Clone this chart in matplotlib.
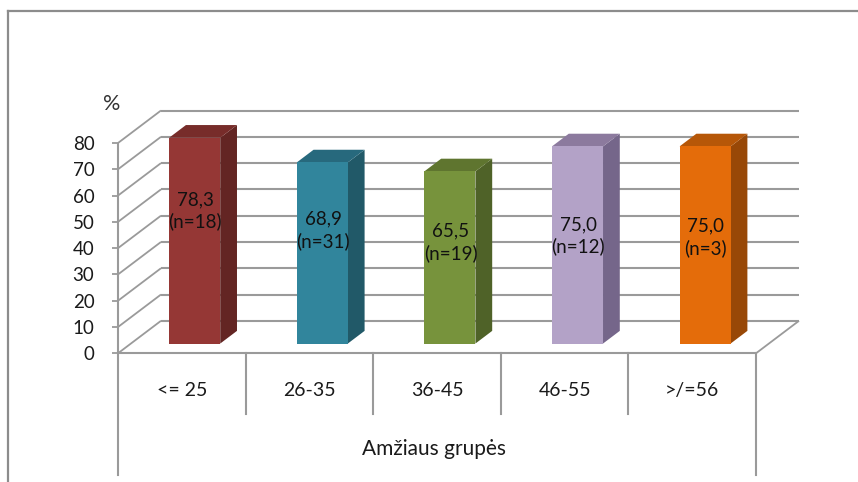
import matplotlib
matplotlib.use("Agg")
import matplotlib.pyplot as plt
from matplotlib.lines import Line2D

categories = ["<= 25", "26-35", "36-45", "46-55", ">/=56"]
values = [78.3, 68.9, 65.5, 75.0, 75.0]
counts = [18, 31, 19, 12, 3]
value_ticks = [0, 10, 20, 30, 40, 50, 60, 70, 80]
x_title = "Amžiaus grupės"
y_title = "%"

front_colors = ["#953735", "#31859C", "#77933C", "#B3A2C7", "#E46C0A"]
side_colors = ["#632523", "#215968", "#4F6228", "#75668A", "#984807"]
top_colors = ["#772C2A", "#27697D", "#5F752F", "#8C7A9E", "#B65708"]

GRID = "#9a9a9a"
FRAME = "#8c8c8c"
TEXT = "#1a1a1a"

plt.rcParams["font.family"] = ["Lato", "DejaVu Sans"]

W, H = 858, 482
LEFT, RIGHT, BASE, TOP = 118, 756, 353.3, 143

fig = plt.figure(figsize=(W / 100, H / 100), dpi=100)
ax = fig.add_axes([LEFT / W, 1 - BASE / H, (RIGHT - LEFT) / W, (BASE - TOP) / H])
ax.set_xlim(0, len(categories))
ax.set_ylim(0, 80)
ax.patch.set_visible(False)
for spine in ax.spines.values():
    spine.set_visible(False)

# oblique projection: depth 0 is the front plane, depth 1 the back wall
DEPTH_X = 43 / ((RIGHT - LEFT) / len(categories))
DEPTH_Y = 32.5 / ((BASE - TOP) / 80)


def project(x, v, depth):
    return x + depth * DEPTH_X, v + depth * DEPTH_Y


def seg(p, q, **kw):
    kw.setdefault("color", GRID)
    kw.setdefault("lw", 1.5)
    kw.setdefault("solid_capstyle", "butt")
    ax.plot([p[0], q[0]], [p[1], q[1]], clip_on=False, **kw)


def face(points, color, z):
    xs, ys = zip(*points)
    ax.fill(xs, ys, color=color, lw=0, clip_on=False, zorder=z)


# back wall and side wall grid
n = len(categories)
for v in value_ticks:
    seg(project(0, v, 1), project(n, v, 1), zorder=1)
    seg(project(0, v, 0), project(0, v, 1), zorder=1, lw=1.3)

# floor edges
seg(project(n, 0, 0), project(n, 0, 1), zorder=1, lw=1.3)
seg((0, 0), (n, 0), zorder=1)
seg((0, 0), (0, 80), zorder=1)

# boxes sit in the middle of the floor depth
BAR_W = 0.4
D0, D1 = 0.30, 0.69
label_heights = [50.5, 43, 38.5, 41, 40.5]
for i, v in enumerate(values):
    xc = i + 0.5
    x0, x1 = xc - BAR_W / 2, xc + BAR_W / 2
    a = project(x0, 0, D0)
    b = project(x1, 0, D0)
    ax.bar((a[0] + b[0]) / 2, v, bottom=a[1], width=BAR_W,
           color=front_colors[i], lw=0, zorder=3, clip_on=False)
    face([project(x1, 0, D0), project(x1, 0, D1), project(x1, v, D1), project(x1, v, D0)],
         side_colors[i], 2)
    face([project(x0, v, D0), project(x1, v, D0), project(x1, v, D1), project(x0, v, D1)],
         top_colors[i], 2)
    lx = (a[0] + b[0]) / 2
    ax.text(lx + 0.005, label_heights[i] + a[1], f"{v:.1f}".replace(".", ",") + f"\n(n={counts[i]})",
            ha="center", va="center", fontsize=13.5, color="#111111", linespacing=1.3,
            zorder=5)

# axis ticks and labels
ax.set_yticks(value_ticks)
ax.tick_params(axis="y", length=4.5, width=1.3, color=GRID, pad=12.5,
               labelsize=13.5, labelcolor=TEXT)
ax.set_xticks([i + 0.5 for i in range(n)], categories)
ax.tick_params(axis="x", length=0, pad=21, labelsize=14, labelcolor=TEXT)

# multi-level category box below the floor
to_axes = ax.get_xaxis_transform()
for i in range(n + 1):
    depth = 121.5 if i in (0, n) else 61
    ax.add_line(Line2D([i, i], [0, -depth / (BASE - TOP)], transform=to_axes,
                       color=GRID, lw=1.5, clip_on=False, zorder=1))

ax.text(n / 2 - 0.02, -96 / (BASE - TOP), x_title, transform=to_axes, ha="center", va="center",
        fontsize=15, color=TEXT)
fig.text(111.5 / W, 1 - 104 / H, y_title, ha="center", va="center", fontsize=15.5, color="#333333")

# outer frame, open on the right and bottom
fig.add_artist(Line2D([8 / W, 8 / W], [0, 1 - 11 / H], color=FRAME, lw=1.6))
fig.add_artist(Line2D([8 / W, 1], [1 - 11 / H, 1 - 11 / H], color=FRAME, lw=1.6))

fig.savefig("out.png", dpi=100)
